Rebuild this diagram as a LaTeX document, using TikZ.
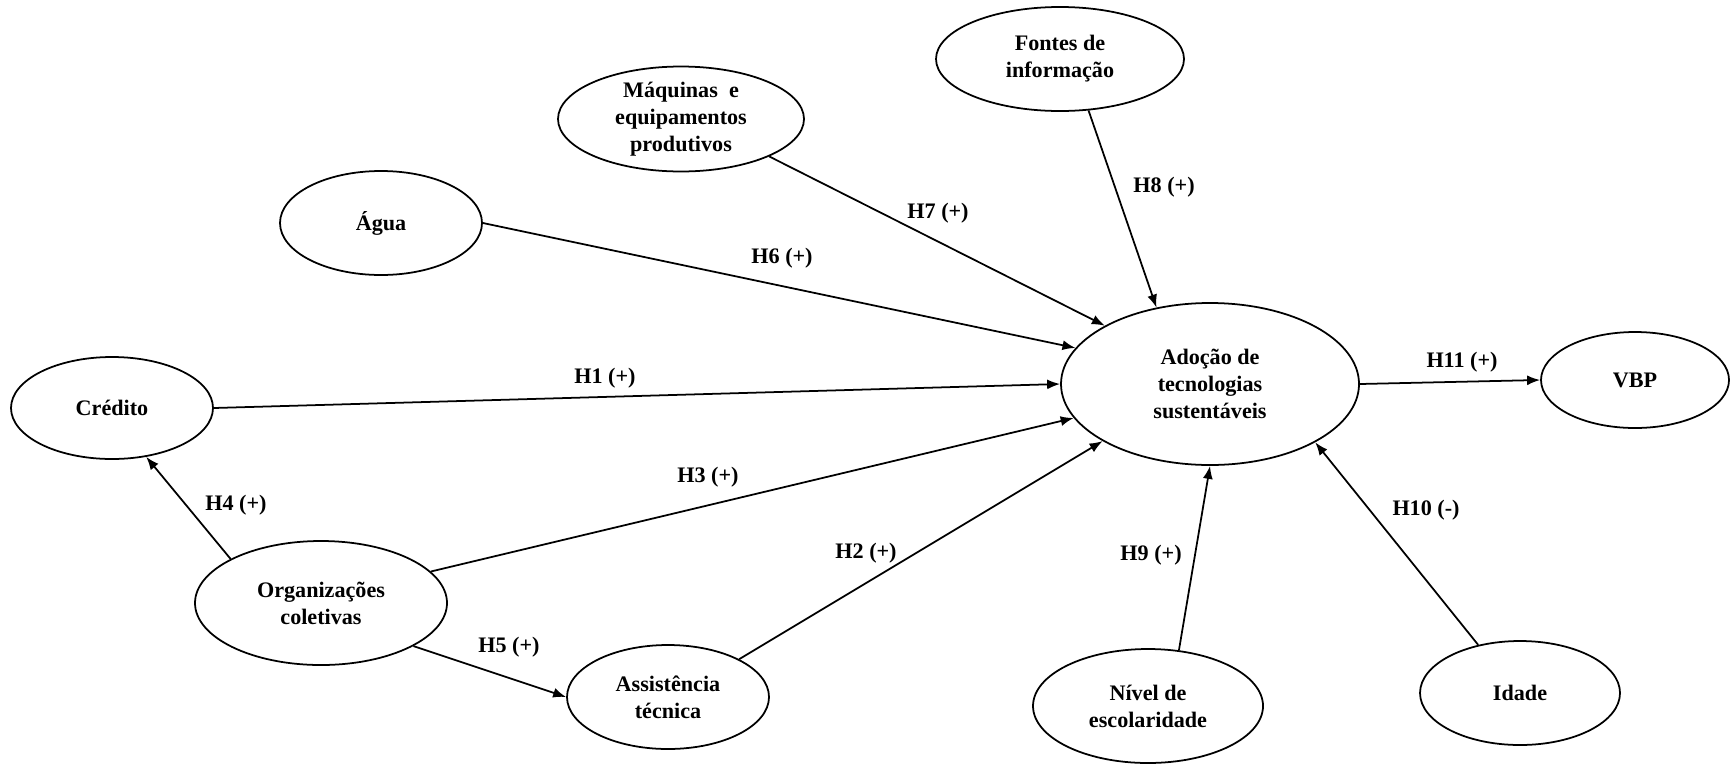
\documentclass[tikz,border=0pt]{standalone}
\usepackage{fontspec}
\setmainfont{Liberation Serif}
\usetikzlibrary{shapes.geometric,arrows.meta}

\begin{document}
\begin{tikzpicture}[
	var/.style={draw, ellipse, line width=0.5pt, inner sep=0pt, align=center, font=\fontsize{6.3}{7.7}\selectfont\bfseries},
	hyp/.style={font=\fontsize{6.3}{7.7}\selectfont\bfseries},
	link/.style={-{Latex[length=1.3mm,width=1mm]}, line width=0.5pt}
	]
	\useasboundingbox (0,0) rectangle (17.30,7.64);
	
	% constructs
	\node[var, minimum width=2.48cm, minimum height=1.04cm] (fontes) at (10.60,7.05) {Fontes de\\informação};
	\node[var, minimum width=2.46cm, minimum height=1.04cm] (maquinas) at (6.81,6.45) {Máquinas\ \ e\\equipamentos\\produtivos};
	\node[var, minimum width=2.02cm, minimum height=1.04cm] (agua) at (3.81,5.41) {Água};
	\node[var, minimum width=2.98cm, minimum height=1.62cm] (adocao) at (12.10,3.80) {Adoção de\\tecnologias\\sustentáveis};
	\node[var, minimum width=1.88cm, minimum height=0.96cm] (vbp) at (16.35,3.84) {VBP};
	\node[var, minimum width=2.02cm, minimum height=1.02cm] (credito) at (1.12,3.56) {Crédito};
	\node[var, minimum width=2.52cm, minimum height=1.24cm] (org) at (3.21,1.61) {Organizações\\coletivas};
	\node[var, minimum width=2.02cm, minimum height=1.04cm] (assist) at (6.68,0.67) {Assistência\\técnica};
	\node[var, minimum width=2.30cm, minimum height=1.14cm] (nivel) at (11.48,0.58) {Nível de\\escolaridade};
	\node[var, minimum width=2.00cm, minimum height=1.04cm] (idade) at (15.20,0.71) {Idade};
	
	% paths
	\draw[link] (credito.east) -- (adocao.west);
	\draw[link] (agua.east) -- (adocao.165);
	\draw[link] (maquinas.-23) -- (adocao.151);
	\draw[link] (fontes.-61) -- (adocao.125);
	\draw[link] (org.16) -- (adocao.194);
	\draw[link] (assist.28) -- (adocao.208);
	\draw[link] (nivel.61) -- (adocao.south);
	\draw[link] (idade.131) -- (adocao.-29);
	\draw[link] (adocao.east) -- (vbp.west);
	\draw[link] (org.154) -- (credito.-55);
	\draw[link] (org.-25) -- (assist.west);
	
	% hypotheses
	\foreach \i/\x/\y/\s in {1/6.05/3.86/+, 2/8.66/2.11/+, 3/7.08/2.87/+, 4/2.36/2.59/+, 5/5.09/1.17/+, 6/7.82/5.06/+, 7/9.38/5.51/+, 8/11.64/5.77/+, 9/11.51/2.09/+, 10/14.26/2.54/-, 11/14.62/4.02/+}
	{
		\node[hyp] (h\i) at (\x,\y) {H\i\ (\s)};
	}
\end{tikzpicture}
\end{document}
